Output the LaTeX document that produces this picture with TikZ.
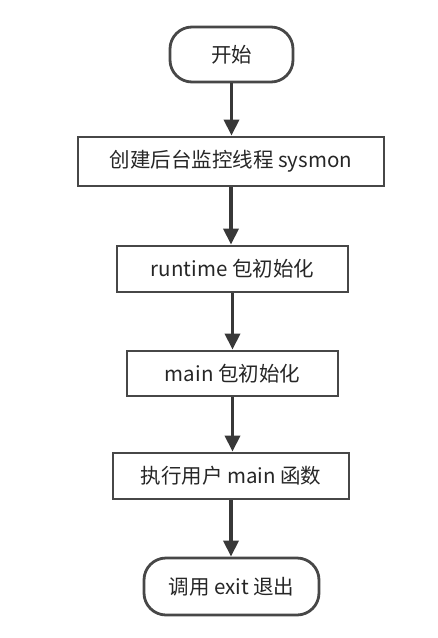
\documentclass[tikz,border=0pt]{standalone}
\usepackage{fontspec}
\setmainfont{Noto Sans CJK SC}
\usetikzlibrary{arrows.meta}

\begin{document}
\begin{tikzpicture} [x=1pt, y=-1pt,
  stepbox/.style= {shape=rectangle, draw=black!72, line width=2.8pt, inner sep=0, font=\fontsize{20.5}{24}\selectfont, text=black!85},
  termbox/.style= {stepbox, rounded corners=22pt},
  arr/.style= {draw=black!78, line width=3.4pt, -{Triangle[width=15pt,length=16pt]}}]
\useasboundingbox (0,0) rectangle (438,638);

\node[termbox, minimum width=123pt, minimum height=55pt] (start) at (231.5, 54.5) {开始};
\node[stepbox, minimum width=306pt, minimum height=49pt] (sysmon) at (231, 161.5) {创建后台监控线程 sysmon};
\node[stepbox, minimum width=231pt, minimum height=46pt] (rtinit) at (232.5, 269) {runtime 包初始化};
\node[stepbox, minimum width=211pt, minimum height=45pt] (maininit) at (232.5, 373.5) {main 包初始化};
\node[stepbox, minimum width=236pt, minimum height=46pt] (mainfn) at (231, 476) {执行用户 main 函数};
\node[termbox, minimum width=175pt, minimum height=57pt] (exit) at (231.5, 586.5) {调用 exit 退出};

\foreach \a/\b in {start/sysmon, sysmon/rtinit, rtinit/maininit, maininit/mainfn, mainfn/exit}{%
  \draw[arr] (\a.south) -- (\a.south |- \b.north);}
\end{tikzpicture}
\end{document}
